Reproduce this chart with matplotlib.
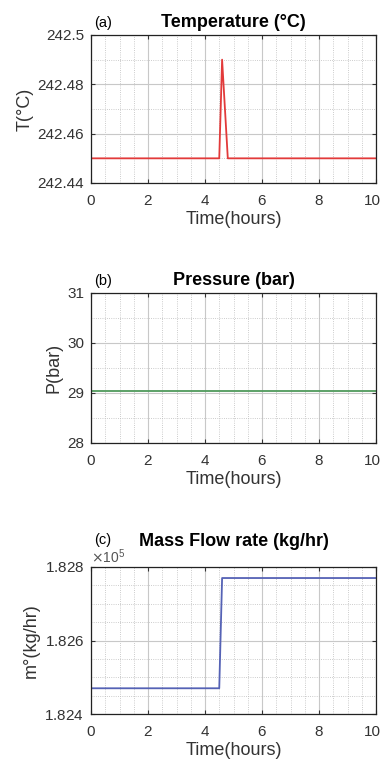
import matplotlib
matplotlib.use("Agg")
import matplotlib.pyplot as plt
from matplotlib.ticker import MultipleLocator, FuncFormatter
from matplotlib.transforms import ScaledTranslation

plt.rcParams['font.family'] = ['Liberation Sans', 'DejaVu Sans']

# data
time_T = [0, 4.5, 4.6, 4.8, 10]
temp = [242.45, 242.45, 242.49, 242.45, 242.45]

time_P = [0, 10]
pres = [29.05, 29.05]

time_m = [0, 4.5, 4.6, 10]
mflow = [182470, 182470, 182770, 182770]

W, H = 383, 770
fig = plt.figure(figsize=(W / 100, H / 100), dpi=100)

def box(l, t, r, b):
    return [l / W, 1 - b / H, (r - l) / W, (b - t) / H]

panels = [
    (box(91, 35, 376, 183), time_T, temp, '#e23a3a', 'Temperature (°C)', '(a)', 'T(°C)',
     (242.44, 242.5), 0.02, 0.01, 5.5),
    (box(91, 293, 376, 443), time_P, pres, '#4f9a5c', 'Pressure (bar)', '(b)', 'P(bar)',
     (28, 31), 1, 0.5, 5.5),
    (box(91, 567, 376, 714), time_m, mflow, '#5562b5', 'Mass Flow rate (kg/hr)', '(c)', 'm°(kg/hr)',
     (182400, 182800), 200, 50, 15),
]

for rect, x, y, col, title, tag, ylab, ylim, ymaj, ymin, tpad in panels:
    ax = fig.add_axes(rect)
    ax.plot(x, y, color=col, lw=1.3)
    ax.set_xlim(0, 10)
    ax.set_ylim(*ylim)
    ax.xaxis.set_major_locator(MultipleLocator(2))
    ax.xaxis.set_minor_locator(MultipleLocator(0.5))
    ax.yaxis.set_major_locator(MultipleLocator(ymaj))
    ax.yaxis.set_minor_locator(MultipleLocator(ymin))
    ax.grid(which='major', color='#c8c8c8', lw=0.8)
    ax.grid(which='minor', color='#bbbbbb', lw=0.6, ls=':')
    ax.set_axisbelow(True)
    ax.tick_params(which='both', direction='in', top=True, right=True,
                   labelsize=11, colors='#333333', length=3)
    ax.tick_params(axis='x', pad=8)
    ax.tick_params(axis='y', pad=5)
    ax.tick_params(which='minor', length=0)
    for s in ax.spines.values():
        s.set_color('#222222')
        s.set_linewidth(0.9)
    ax.set_xlabel('Time(hours)', fontsize=13, color='#333333', labelpad=2)
    ax.set_ylabel(ylab, fontsize=13, color='#333333', labelpad=3)
    ax.set_title(title, fontsize=13, fontweight='bold', pad=tpad)
    ax.annotate(tag, xy=(0, 1), xycoords='axes fraction', xytext=(2, tpad + (1.5 if tag == '(c)' else 0)),
                textcoords='offset points', fontsize=10.5, va='baseline', ha='left')
    if tag == '(c)':
        ax.ticklabel_format(axis='y', style='sci', scilimits=(5, 5), useMathText=True, useOffset=False)
        ax.yaxis.get_offset_text().set_fontsize(10)
        ax.yaxis.get_offset_text().set_color('#555555')
    else:
        ax.yaxis.set_major_formatter(FuncFormatter(lambda v, p: '%g' % round(v, 6)))

    # keep the "10" inside the picture, like the reference
    fig.canvas.draw()
    last = [t for t in ax.get_xticklabels() if t.get_text() == '10']
    for t in last:
        t.set_transform(t.get_transform() + ScaledTranslation(-4 / 100, 0, fig.dpi_scale_trans))

fig.savefig('out.png', dpi=100)
